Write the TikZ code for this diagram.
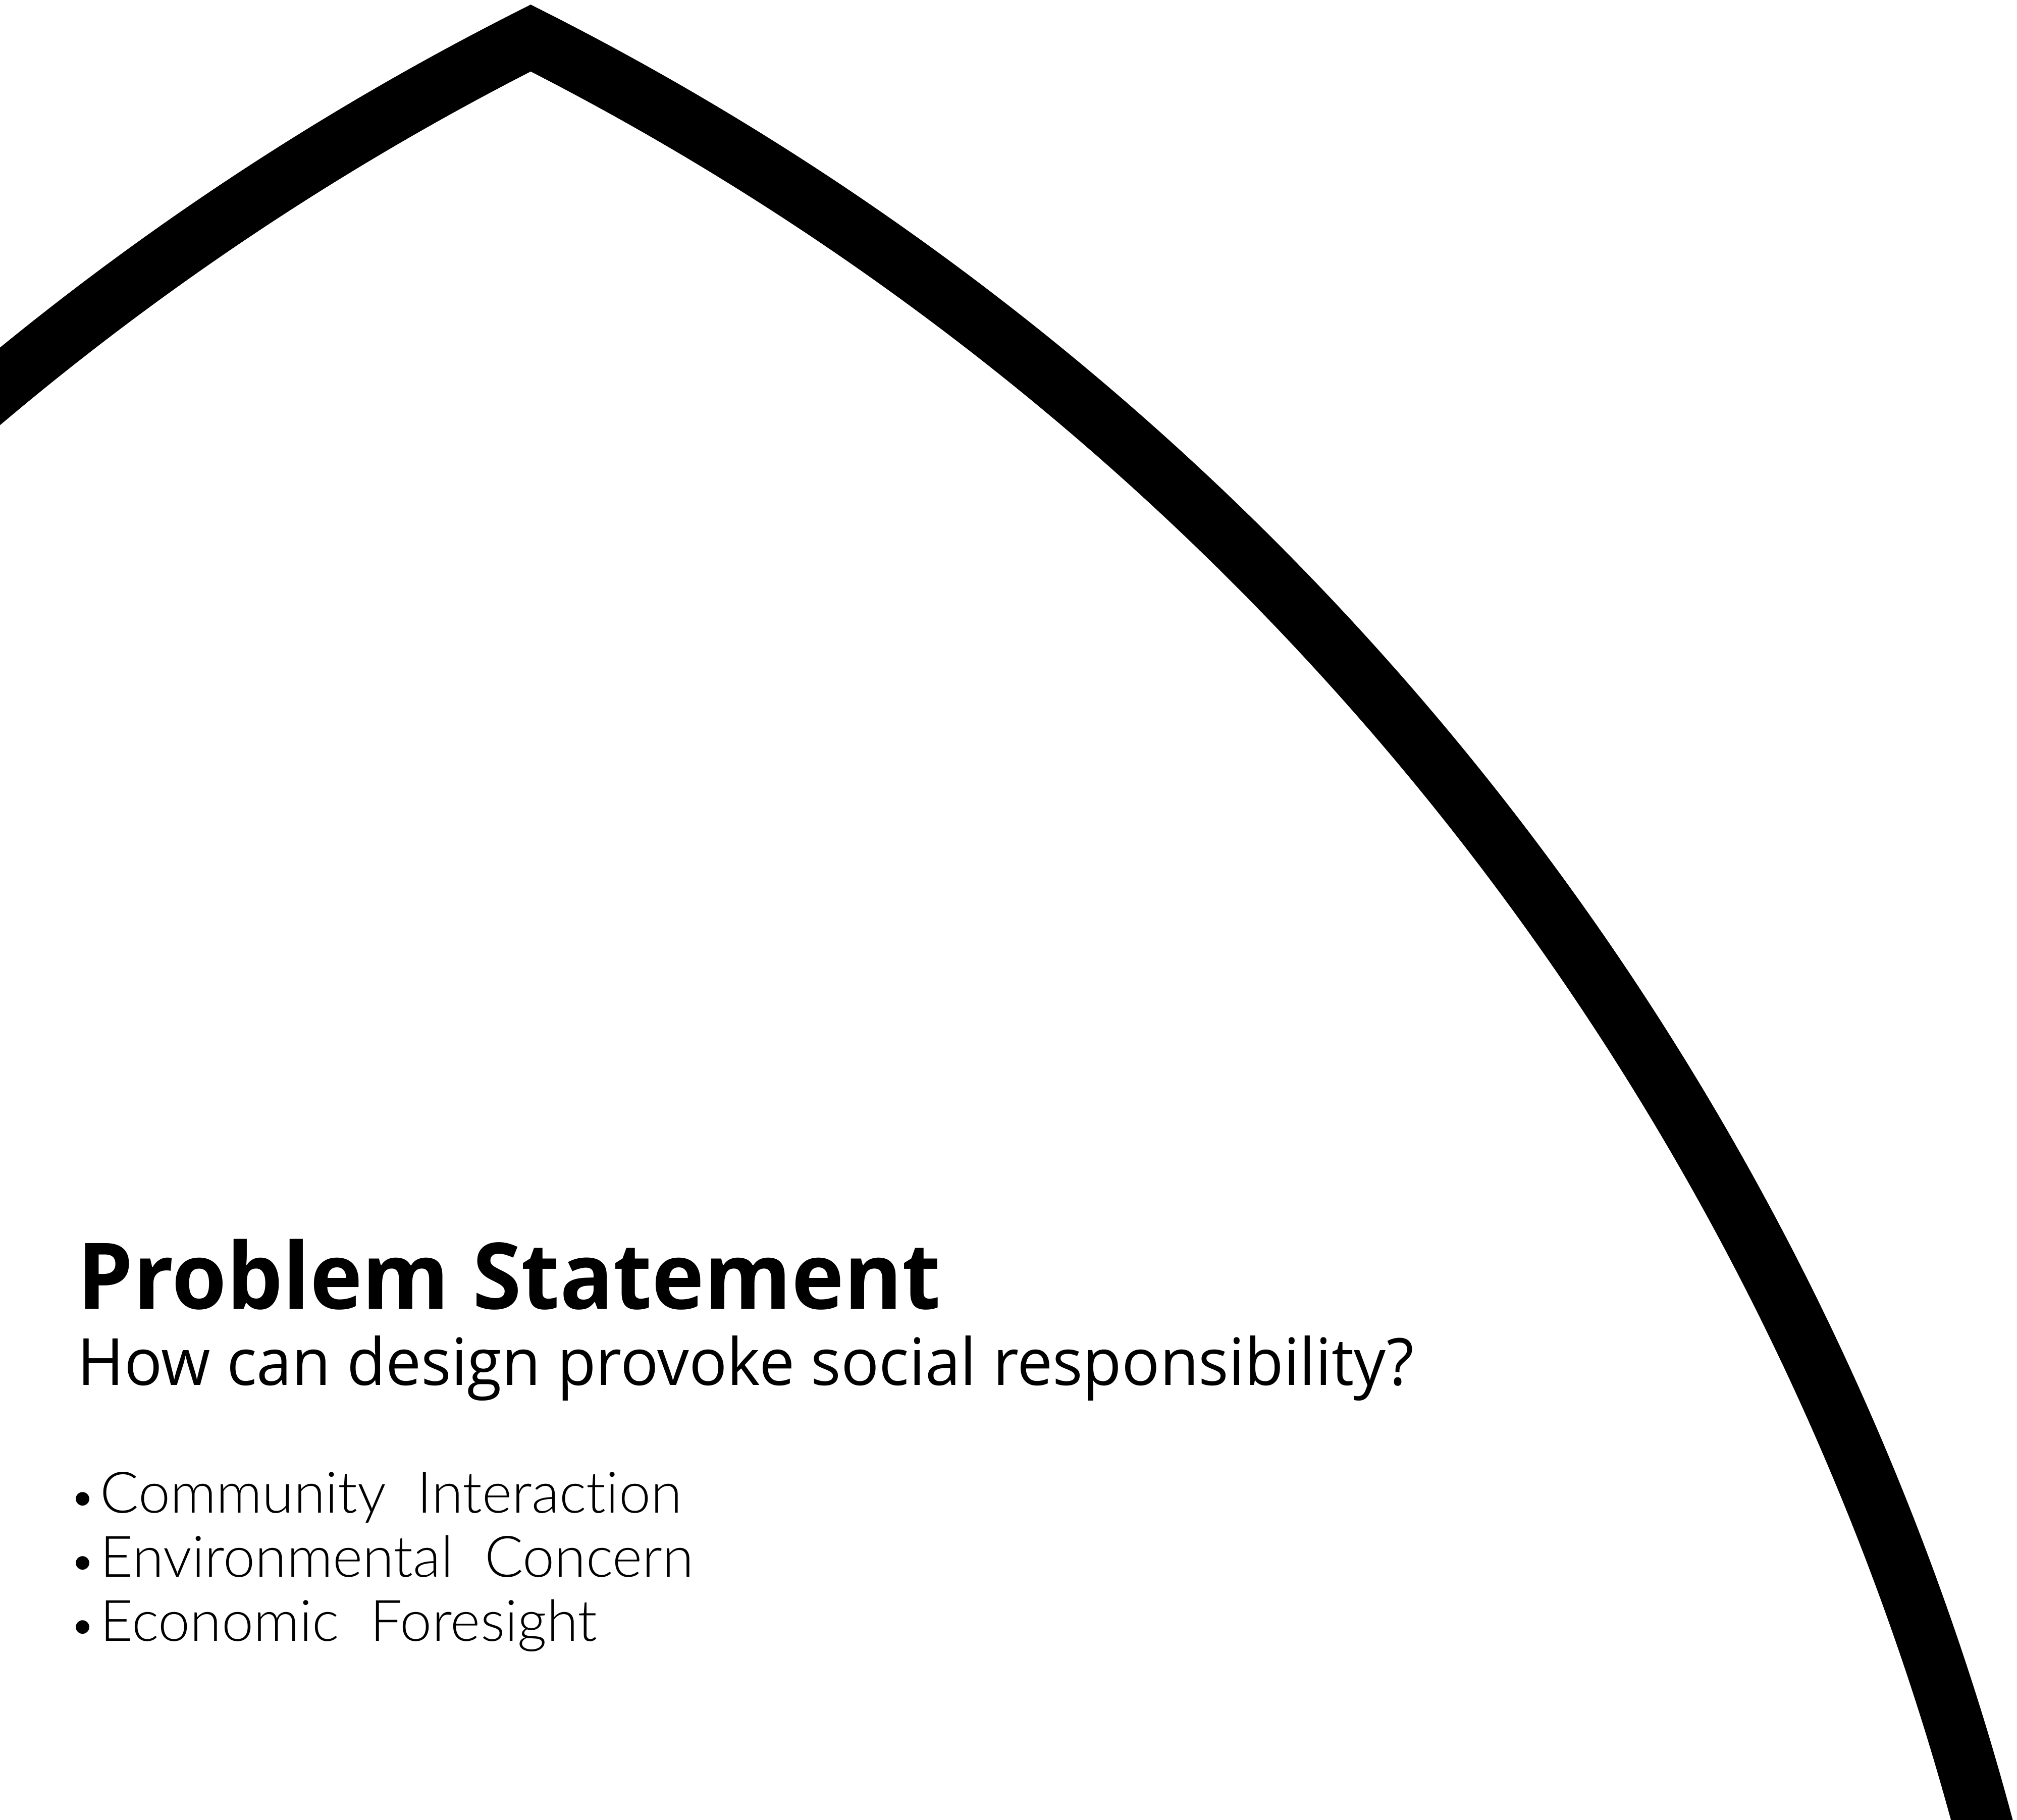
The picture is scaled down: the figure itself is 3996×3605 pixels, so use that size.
\documentclass[tikz,border=0pt]{standalone}
\usepackage{fontspec}
\setmainfont{Open Sans}
\newfontfamily\headfont{Open Sans}[FakeStretch=0.965]
\newfontfamily\askfont{Open Sans}[FakeStretch=0.97]
\newfontfamily\lightfont{Lato Light}[Ligatures=NoCommon]
\begin{document}
\begin{tikzpicture}[x=0.01cm,y=0.01cm,
  heading/.style={anchor=base west,inner sep=0pt,font=\headfont\fontsize{51.8}{60}\selectfont\bfseries},
  question/.style={anchor=base west,inner sep=0pt,font=\askfont\fontsize{36.7}{44}\selectfont},
  point/.style={anchor=base west,inner sep=0pt,font=\lightfont\fontsize{32.2}{38}\selectfont}]
\pgfmathsetmacro\R{55.88}
\fill[white] (0,0) rectangle (3996,3605);
\clip (0,0) rectangle (3996,3605);
\coordinate (leftc) at (3574,-1460);
\coordinate (rightc) at (-1470,-1460);
\draw[line width=33.6pt, line join=miter] ([shift={(132:\R cm)}]leftc) arc[start angle=132, end angle=116.82, radius=\R cm] arc[start angle=63.18, end angle=12, radius=\R cm];
\node[heading] (title) at (153,1011) {Problem Statement};
\node[question] (question) at (153,860) {How can design provoke social responsibility?};
\node[point] (item1) at (137,607) {{\fontsize{26}{26}\selectfont\textbullet}\hspace{0.08cm}Community\ \ Interaction};
\node[point] (item2) at (137,480) {{\fontsize{26}{26}\selectfont\textbullet}\hspace{0.08cm}Environmental\ \ Concern};
\node[point] (item3) at (137,353) {{\fontsize{26}{26}\selectfont\textbullet}\hspace{0.08cm}Economic\ \ Foresight};
\end{tikzpicture}
\end{document}
